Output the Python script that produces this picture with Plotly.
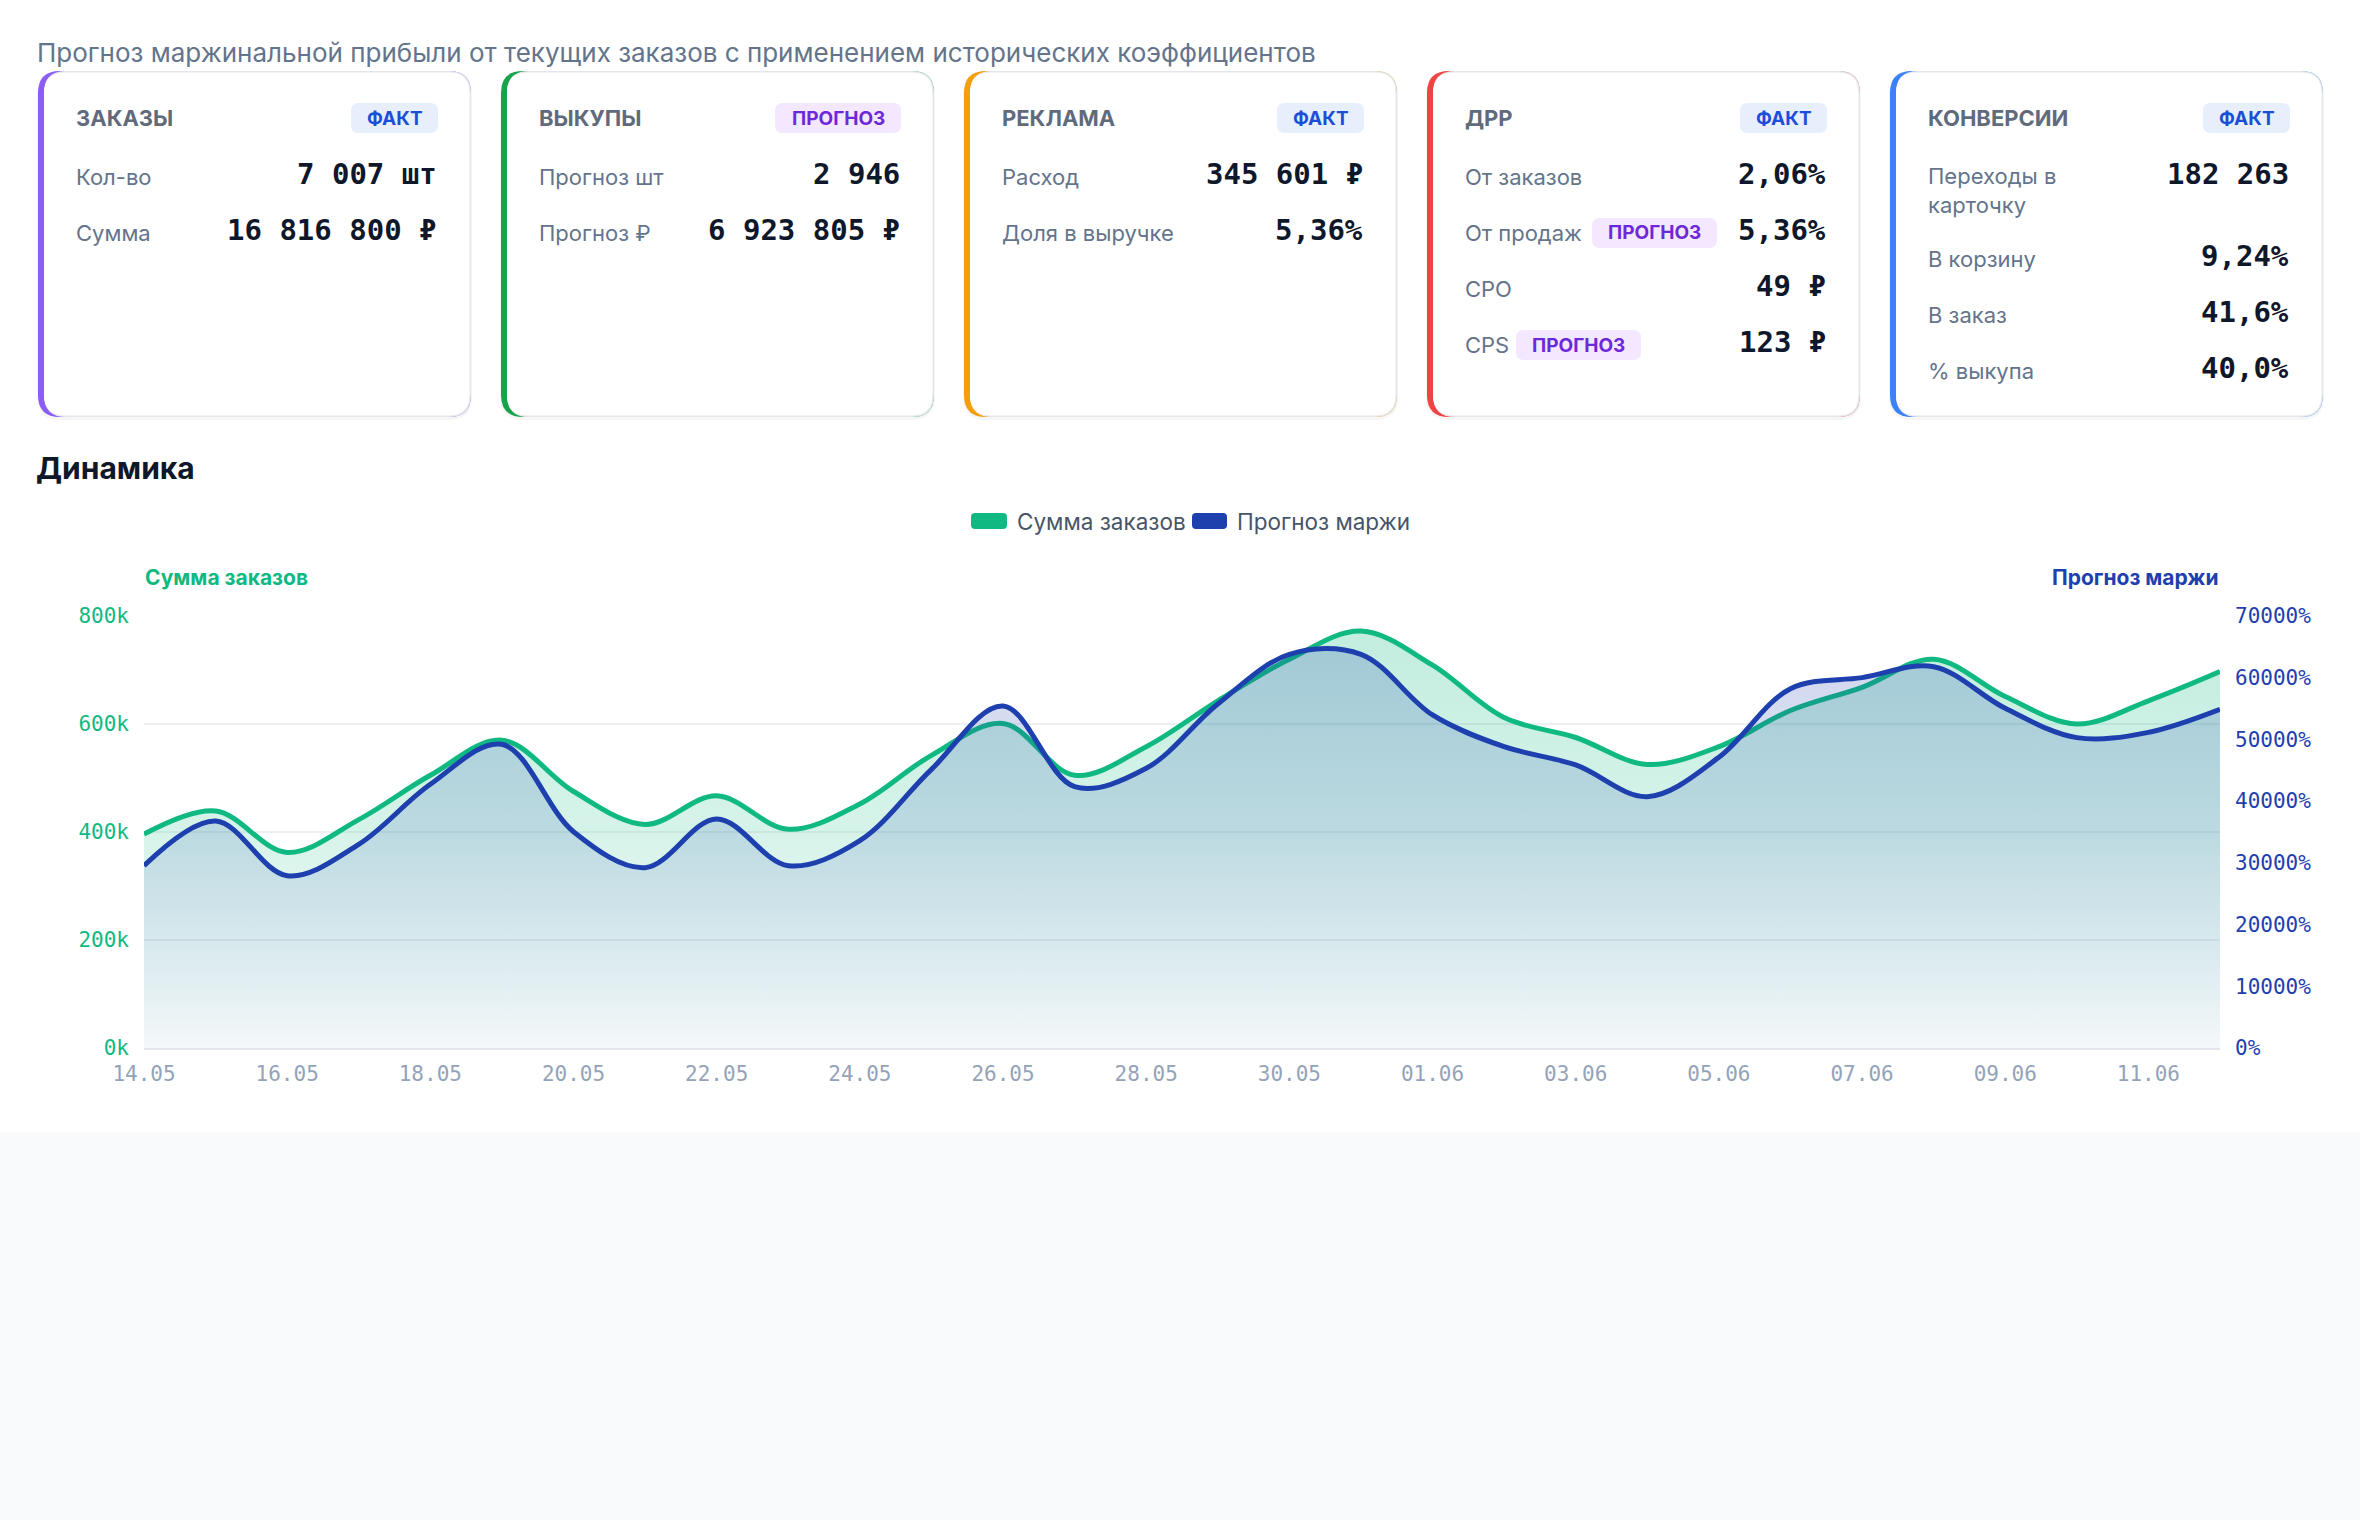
import plotly.graph_objects as go

# ---------------- data ----------------
DATES = ["14.05", "15.05", "16.05", "17.05", "18.05", "19.05", "20.05", "21.05",
         "22.05", "23.05", "24.05", "25.05", "26.05", "27.05", "28.05", "29.05",
         "30.05", "31.05", "01.06", "02.06", "03.06", "04.06", "05.06", "06.06",
         "07.06", "08.06", "09.06", "10.06", "11.06", "12.06"]

SUM_ORDERS = [396000, 439000, 362000, 423000, 505000, 570000, 475000, 414000,
              467000, 405000, 452000, 542000, 601000, 505000, 558000, 643000,
              720000, 772000, 709000, 612000, 575000, 525000, 558000, 625000,
              668000, 720000, 651000, 600000, 643000, 697000]

MARGIN_FORECAST = [29540, 36780, 27920, 33000, 42730, 49210, 35050, 29220,
                   37110, 29540, 33600, 45150, 55420, 42350, 45320, 55740,
                   63790, 63790, 53960, 48820, 45860, 40730, 47100, 58230,
                   60010, 61790, 55040, 50290, 51150, 54880]

X_TICKS = DATES[::2]
Y_LEFT_TICKS = [0, 200000, 400000, 600000, 800000]
Y_LEFT_LABELS = ["0k", "200k", "400k", "600k", "800k"]
Y_RIGHT_TICKS = [0, 10000, 20000, 30000, 40000, 50000, 60000, 70000]
Y_RIGHT_LABELS = ["0%", "10000%", "20000%", "30000%", "40000%", "50000%", "60000%", "70000%"]

SERIES_NAMES = ["Сумма заказов", "Прогноз маржи"]

PAGE_TITLE = "Прогноз маржинальной прибыли от текущих заказов с применением исторических коэффициентов"
SECTION_TITLE = "Динамика"

CARD_TITLES = ["ЗАКАЗЫ", "ВЫКУПЫ", "РЕКЛАМА", "ДРР", "КОНВЕРСИИ"]
CARD_BADGES = ["ФАКТ", "ПРОГНОЗ", "ФАКТ", "ФАКТ", "ФАКТ"]
CARD_ROWS = [
    [("Кол-во", "7 007 шт", None), ("Сумма", "16 816 800 ₽", None)],
    [("Прогноз шт", "2 946", None), ("Прогноз ₽", "6 923 805 ₽", None)],
    [("Расход", "345 601 ₽", None), ("Доля в выручке", "5,36%", None)],
    [("От заказов", "2,06%", None), ("От продаж", "5,36%", "ПРОГНОЗ"),
     ("СРО", "49 ₽", None), ("CPS", "123 ₽", "ПРОГНОЗ")],
    [("Переходы в<br>карточку", "182 263", None), ("В корзину", "9,24%", None),
     ("В заказ", "41,6%", None), ("% выкупа", "40,0%", None)],
]

# ---------------- styles ----------------
GREEN = "#10b981"
BLUE = "#1e40af"
SLATE = "#64748b"
DARK = "#0f172a"
SANS = "Inter, Noto Sans, sans-serif"
MONO = "DejaVu Sans Mono, Liberation Mono, monospace"
ACCENTS = ["#8b5cf6", "#16a34a", "#f59e0b", "#ef4444", "#3b82f6"]
BADGE_STYLE = {"ФАКТ": ("#e7effd", "#1d4ed8", 87), "ПРОГНОЗ": ("#f3e8ff", "#6d28d9", 126)}
INLINE_BADGE_OFFSET = {"От продаж": 165, "CPS": 89}

W, H = 2360, 1520
PL, PR, PT, PB = 144, 2220, 616, 1048


def fx(x):
    return (x - PL) / (PR - PL)


def fy(y):
    return (PB - y) / (PB - PT)


def rrect_path(x0, y0, x1, y1, r):
    return (f"M {fx(x0 + r)},{fy(y0)} L {fx(x1 - r)},{fy(y0)} "
            f"Q {fx(x1)},{fy(y0)} {fx(x1)},{fy(y0 + r)} L {fx(x1)},{fy(y1 - r)} "
            f"Q {fx(x1)},{fy(y1)} {fx(x1 - r)},{fy(y1)} L {fx(x0 + r)},{fy(y1)} "
            f"Q {fx(x0)},{fy(y1)} {fx(x0)},{fy(y1 - r)} L {fx(x0)},{fy(y0 + r)} "
            f"Q {fx(x0)},{fy(y0)} {fx(x0 + r)},{fy(y0)} Z")


shapes = []
annotations = []


def add_rrect(x0, y0, x1, y1, r, fill):
    shapes.append(dict(type="path", path=rrect_path(x0, y0, x1, y1, r), xref="paper", yref="paper",
                       fillcolor=fill, line=dict(width=0, color="rgba(0,0,0,0)"), layer="above"))


def add_text(x, y, s, size, color, family=SANS, weight=400, xanchor="left"):
    annotations.append(dict(x=fx(x), y=fy(y), xref="paper", yref="paper", text=s, showarrow=False,
                            xanchor=xanchor, yanchor="middle", align="left",
                            font=dict(family=family, size=size, color=color, weight=weight)))


def add_badge(x0, yc, label, w=None):
    bg, fg, bw = BADGE_STYLE[label]
    if w is not None:
        bw = w
    add_rrect(x0, yc - 15, x0 + bw, yc + 15, 8, bg)
    add_text(x0 + bw / 2, yc, label, 19, fg, weight=700, xanchor="center")


# page background bottom area
shapes.append(dict(type="rect", xref="paper", yref="paper", x0=fx(0), x1=fx(W), y0=fy(1132), y1=fy(H),
                   fillcolor="#f8fafc", line=dict(width=0), layer="above"))

# header
add_text(35, 53, PAGE_TITLE, 26, SLATE)
add_text(34, 468, SECTION_TITLE, 30, DARK, weight=700)

# cards
CARD_Y0, CARD_Y1, CARD_W, CARD_GAP, CARD_X = 71, 417, 433, 30, 38
for i in range(5):
    x0 = CARD_X + i * (CARD_W + CARD_GAP)
    x1 = x0 + CARD_W
    r = 22
    add_rrect(x0 - 1, CARD_Y0 + 1, x1 + 1, CARD_Y1 + 3, r + 1, "rgba(15,23,42,0.04)")
    add_rrect(x0, CARD_Y0, x1, CARD_Y1, r, ACCENTS[i])
    add_rrect(x0 + 6, CARD_Y0, x1, CARD_Y1, r, "#e3e6ea")
    add_rrect(x0 + 6, CARD_Y0 + 1.5, x1 - 1.5, CARD_Y1 - 1.5, r - 1.5, "#ffffff")
    add_text(x0 + 36, 118, CARD_TITLES[i], 22, "#5f6b7c", weight=700)
    bw = BADGE_STYLE[CARD_BADGES[i]][2]
    add_badge(x1 - 33 - bw, 118, CARD_BADGES[i])
    y = 176
    for label, value, badge in CARD_ROWS[i]:
        two_line = "<br>" in label
        if two_line:
            add_text(x0 + 36, y + 14, label, 22, SLATE)
            add_text(x1 - 32, y - 2, value, 29, DARK, family=MONO, weight=700, xanchor="right")
            y += 82
        else:
            add_text(x0 + 36, y + 1, label, 22, SLATE)
            add_text(x1 - 32, y - 2, value, 29, DARK, family=MONO, weight=700, xanchor="right")
            if badge:
                add_badge(x0 + INLINE_BADGE_OFFSET[label], y + 1, badge, 125)
            y += 56

# legend
add_rrect(971, 513, 1007, 529, 4, GREEN)
add_text(1015, 521, SERIES_NAMES[0], 22.5, "#475569")
add_rrect(1192, 513, 1227, 529, 4, BLUE)
add_text(1235, 521, SERIES_NAMES[1], 22.5, "#475569")

# axis titles
add_text(143, 577, SERIES_NAMES[0], 21, GREEN, weight=700)
add_text(2221, 577, SERIES_NAMES[1], 21, BLUE, weight=700, xanchor="right")

# ---------------- traces ----------------
fig = go.Figure()
fig.add_trace(go.Scatter(
    x=DATES, y=SUM_ORDERS, name=SERIES_NAMES[0], mode="lines", yaxis="y",
    line=dict(color=GREEN, width=5, shape="spline", smoothing=1.0),
    fill="tozeroy",
    fillgradient=dict(type="vertical", start=0, stop=800000,
                      colorscale=[[0, "rgba(16,185,129,0.02)"], [0.5, "rgba(16,185,129,0.17)"],
                                  [1, "rgba(16,185,129,0.26)"]]),
    hoverinfo="skip"))
fig.add_trace(go.Scatter(
    x=DATES, y=MARGIN_FORECAST, name=SERIES_NAMES[1], mode="lines", yaxis="y2",
    line=dict(color=BLUE, width=5, shape="spline", smoothing=1.0),
    fill="tozeroy",
    fillgradient=dict(type="vertical", start=0, stop=70000,
                      colorscale=[[0, "rgba(30,64,175,0.03)"], [0.5, "rgba(30,64,175,0.14)"],
                                  [1, "rgba(30,64,175,0.22)"]]),
    hoverinfo="skip"))

fig.update_layout(
    width=W, height=H,
    margin=dict(l=PL, r=W - PR, t=PT, b=H - PB, pad=0),
    paper_bgcolor="#ffffff", plot_bgcolor="rgba(0,0,0,0)",
    showlegend=False,
    xaxis=dict(type="category", categoryorder="array", categoryarray=DATES,
               range=[0, len(DATES) - 1], tickmode="array", tickvals=X_TICKS, ticktext=X_TICKS,
               showgrid=False, zeroline=False, showline=True, linecolor="#e2e6ec", linewidth=2,
               ticks="", ticklabelstandoff=6,
               tickfont=dict(family=MONO, size=21, color="#94a3b8")),
    yaxis=dict(range=[0, 800000], tickmode="array", tickvals=Y_LEFT_TICKS, ticktext=Y_LEFT_LABELS,
               showgrid=True, gridcolor="#eef0f3", gridwidth=2, zeroline=False, ticks="",
               ticklabelstandoff=14, tickfont=dict(family=MONO, size=21, color=GREEN)),
    yaxis2=dict(range=[0, 70000], overlaying="y", side="right", tickmode="array",
                tickvals=Y_RIGHT_TICKS, ticktext=Y_RIGHT_LABELS, showgrid=False, zeroline=False,
                ticks="", ticklabelstandoff=14, tickfont=dict(family=MONO, size=21, color=BLUE)),
    shapes=shapes,
    annotations=annotations,
)

fig.write_html("out.html")
